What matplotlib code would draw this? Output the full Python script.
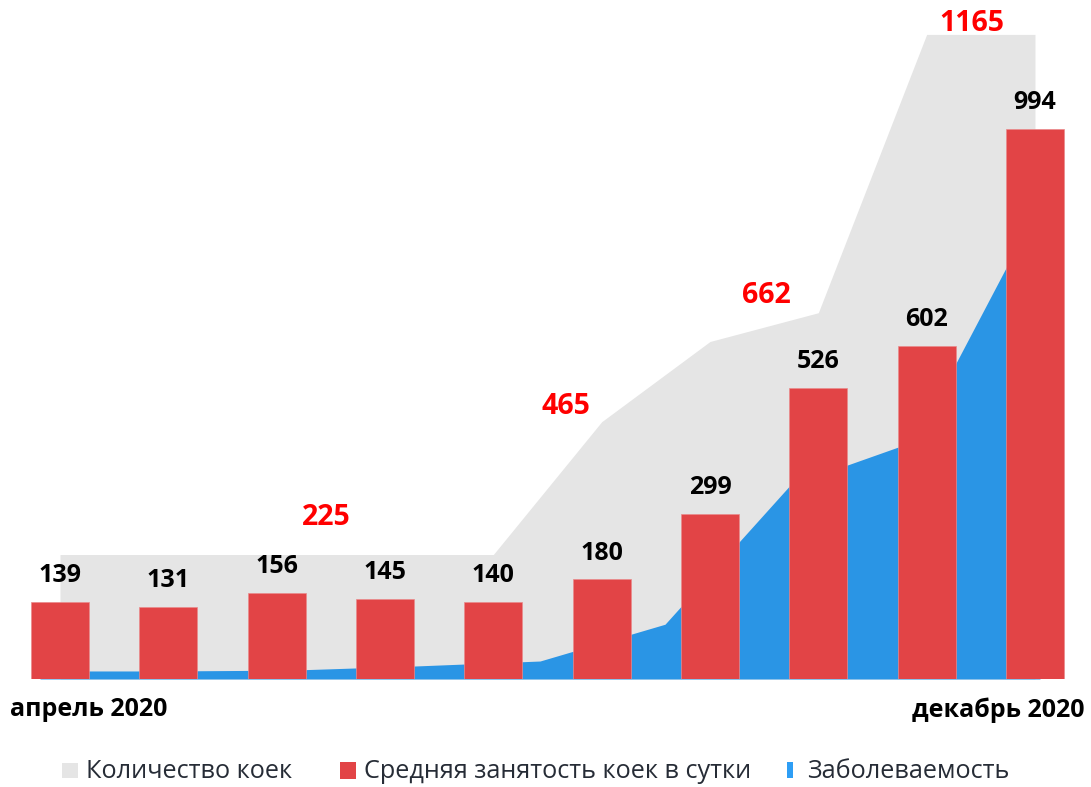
import matplotlib
matplotlib.use('Agg')
import matplotlib.pyplot as plt
from matplotlib.patches import Rectangle
import numpy as np

# ---- data ----
occupancy = [139, 131, 156, 145, 140, 180, 299, 526, 602, 994]
beds = [225, 225, 225, 225, 225, 465, 610, 662, 1165, 1165]
bed_labels = [225, 465, 662, 1165]
morbidity = [14.5, 14.5, 16, 23.5, 32.5, 99, 350, 430, 860]
x_labels = ['апрель 2020', 'декабрь 2020']
legend_labels = ['Количество коек', 'Средняя занятость коек в сутки', 'Заболеваемость']

plt.rcParams['font.family'] = ['Open Sans', 'DejaVu Sans']

# ---- layout ----
W, H = 1091, 787
fig = plt.figure(figsize=(W / 100, H / 100), dpi=100)
base_px = 679
px_per_unit = 0.5533
pos = [0, (H - base_px) / H, 1, base_px / H]
ymax = base_px / px_per_unit
bar_step, bar0 = 108.33, 60
blue_step, blue0 = 125, 40
xlim_bars = (-bar0 / bar_step, (W - bar0) / bar_step)
xlim_blue = (-blue0 / blue_step, (W - blue0) / blue_step)

ax_g = fig.add_axes(pos)
ax_b = fig.add_axes(pos)
ax_r = fig.add_axes(pos)
for a in (ax_g, ax_b, ax_r):
    a.set_axis_off()
    a.set_ylim(0, ymax)
    a.patch.set_visible(False)
ax_g.set_xlim(xlim_bars)
ax_r.set_xlim(xlim_bars)
ax_b.set_xlim(xlim_blue)

GRAY = '#E5E5E5'
RED = '#E24446'
BLUE = '#2A95E5'

idx = np.arange(len(occupancy))
ax_g.fill_between(idx, beds, color=GRAY, lw=0)
ax_b.fill_between(np.arange(len(morbidity)), morbidity, color=BLUE, lw=0)
ax_r.bar(idx, occupancy, width=0.535, color=RED, edgecolor='#EA8A8C', lw=0.5)

for i, v in enumerate(occupancy):
    ax_r.annotate(str(v), (i, v), xytext=(0, 19.0), textcoords='offset points',
                  ha='center', va='center', fontsize=18, fontweight='bold', color='black')

label_pos = [(2.455, 291), (4.67, 492), (6.517, 693), (8.42, 1185)]
for (x, y), v in zip(label_pos, bed_labels):
    ax_r.text(x, y, str(v), color='#FF0000', fontsize=20.5, fontweight='bold',
              ha='center', va='center')

# x labels
fig.text(10 / W, 1 - 710 / H, x_labels[0], ha='left', va='center',
         fontsize=18, fontweight='bold', color='black')
fig.text(1085 / W, 1 - 710 / H, x_labels[1], ha='right', va='center',
         fontsize=18, fontweight='bold', color='black')

# legend
TXT = '#262C36'
items = [
    (GRAY, (62, 763, 16, 15), 86),
    (RED, (340, 762, 16, 17), 364),
    ('#2E9EF5', (787, 762, 6, 16), 807),
]
for (col, (x, y, w, h), tx), lab in zip(items, legend_labels):
    fig.patches.append(Rectangle((x / W, 1 - (y + h) / H), w / W, h / H,
                                 transform=fig.transFigure, color=col, lw=0))
    fig.text(tx / W, 1 - 771.5 / H, lab, ha='left', va='center', fontsize=18.2, color=TXT)

fig.savefig('out.png', dpi=100)
